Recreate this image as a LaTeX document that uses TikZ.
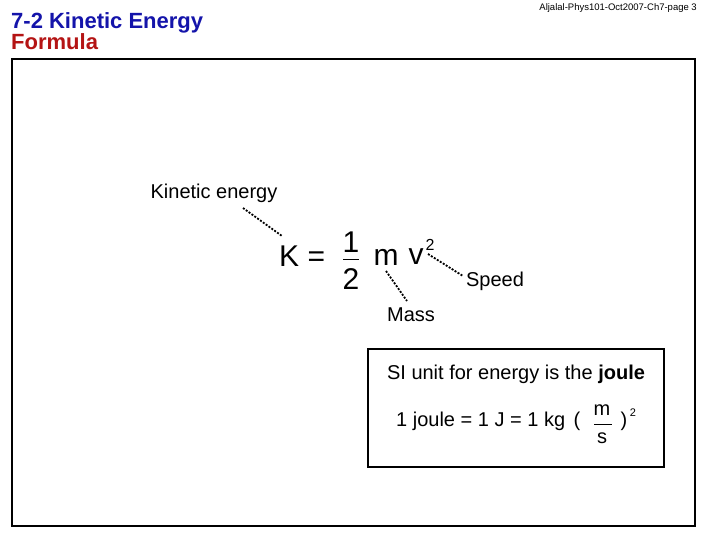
\documentclass[tikz,border=0pt]{standalone}
\usepackage{fontspec}
\setmainfont{Liberation Sans}
\definecolor{titleblue}{RGB}{20,20,170}
\definecolor{titlered}{RGB}{180,20,20}
\tikzset{
  lbl/.style={inner sep=0pt, font=\fontsize{20}{23}\selectfont},
  big/.style={inner sep=0pt, font=\fontsize{30}{34}\selectfont},
  pointer/.style={line width=1.8pt, dash pattern=on 2pt off 1.5pt},
  frame/.style={line width=2.4pt}
}
\begin{document}
\begin{tikzpicture}[x=1pt,y=-1pt]
\useasboundingbox (0,0) rectangle (720,540);
% header
\node[anchor=east, inner sep=0pt, font=\fontsize{9.5}{10}\selectfont] (hdr) at (697,8) {Aljalal-Phys101-Oct2007-Ch7-page 3};
\node[anchor=base west, inner sep=0pt, text=titleblue, font=\fontsize{22}{24}\bfseries\selectfont] (t1) at (11,29) {7-2 Kinetic Energy};
\node[anchor=base west, inner sep=0pt, text=titlered, font=\fontsize{22}{24}\bfseries\selectfont] (t2) at (11,50) {Formula};
% frame
\draw[frame] (12,59) rectangle (695,526);
% formula
\node[lbl] (ke) at (214,193) {Kinetic energy};
\node[big, anchor=west] (K) at (279,256) {K =};
\node[big] (one) at (351,242) {1};
\draw[line width=1pt] (343,259) -- (359,259);
\node[big] (two) at (351,279) {2};
\node[big] (m) at (386,257) {m};
\node[big] (v) at (416,257) {v};
\node[inner sep=0pt, font=\fontsize{16}{18}\selectfont] (sq) at (430,245) {2};
\node[lbl] (speed) at (495,281) {Speed};
\node[lbl] (mass) at (411,315) {Mass};
\coordinate (keend) at (282,236);
\coordinate (kestart) at (243,208);
\draw[pointer] (kestart) -- (keend);
\coordinate (vpt) at (428,254);
\coordinate (sppt) at (463,276);
\draw[pointer] (vpt) -- (sppt);
\coordinate (mpt) at (386,271);
\coordinate (mspt) at (407,301);
\draw[pointer] (mpt) -- (mspt);
% SI box
\draw[frame, line width=2pt] (368,349) rectangle (664,467);
\node[lbl] (si) at (516,374) {SI unit for energy is the \textbf{joule}};
\node[lbl, anchor=west] (eq) at (396,421) {1 joule = 1 J = 1 kg};
\node[lbl] (lp) at (577,421) {(};
\node[lbl] (fm) at (602,410) {m};
\draw[line width=1pt] (594,424) -- (612,424);
\node[lbl] (fs) at (602,438) {s};
\node[lbl] (rp) at (624,421) {)};
\node[inner sep=0pt, font=\fontsize{11}{12}\selectfont] (sq2) at (633,413) {2};
\end{tikzpicture}
\end{document}
